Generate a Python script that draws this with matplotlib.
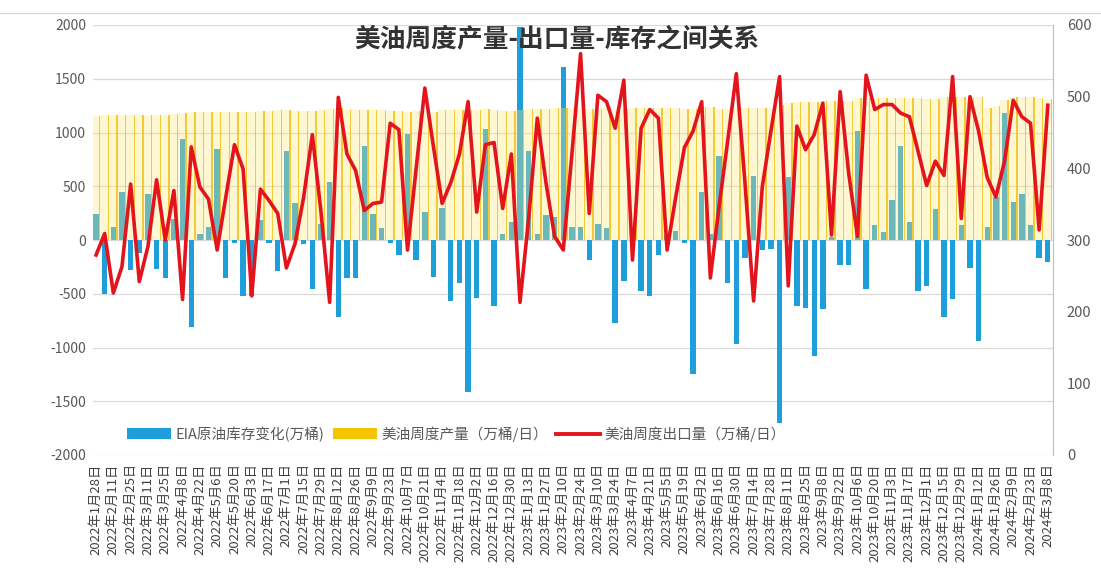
import numpy as np
import pandas as pd
import matplotlib
matplotlib.use("Agg")
import matplotlib.pyplot as plt
from matplotlib.patches import Patch
from matplotlib.lines import Line2D

plt.rcParams['font.family'] = ['Noto Sans CJK SC', 'DejaVu Sans']
plt.rcParams['axes.unicode_minus'] = False

# -------------------- data --------------------
dates = pd.date_range('2022-01-28', '2024-03-08', freq='7D')
date_labels = [f"{d.year}年{d.month}月{d.day}日" for d in dates]

# EIA crude inventory change (万桶), left axis
inventory_change = [
    245, -505, 117, 445, -276, -120, 430, -270, -350, 200,
    940, -813, 60, 120, 850, -353, -30, -520, -520, 190,
    -30, -290, 830, 340, -40, -460, 150, 540, -720, -350,
    -350, 875, 245, 110, -30, -140,
    985, -185, 260, -340, 300, -570, -400, -1412, -540, 1030,
    -615, 60, 170, 1980, 830, 60, 230, 215, 1610, 120,
    120, -185, 150, 110, -770, -385, 100, -475, -520, -140,
    50, 80, -30, -1245, 445, 60, 780, -400,
    -967, -170, 600, -90, -80, -1705, 585, -615, -630, -1075,
    -645, 30, -230, -230, 1015, -460, 140, 77, 370, 875,
    170, -475, -430, 290, -720, -550, 140, -260, -935, 120,
    400, 1180, 350, 430, 140, -170, -200,
]

# US weekly crude production (万桶/日), left axis
production = [
    1150, 1160, 1160, 1160, 1160, 1160, 1160, 1160, 1160, 1170,
    1180, 1190, 1190, 1190, 1190, 1190, 1190, 1190, 1190, 1200,
    1200, 1210, 1210, 1200, 1200, 1200, 1210, 1220, 1230, 1210,
    1210, 1210, 1210, 1210, 1200, 1200, 1190, 1200, 1200, 1190,
    1210, 1210, 1210, 1210, 1210, 1220, 1210, 1200, 1200,
    1210, 1220, 1220, 1220, 1230, 1230, 1230, 1230, 1220, 1220,
    1230, 1220, 1220, 1230, 1230, 1230, 1230, 1230, 1230, 1220,
    1220, 1240, 1240, 1220, 1220, 1240, 1230, 1230, 1230, 1220,
    1260, 1270, 1280, 1280, 1280, 1290, 1290, 1290, 1290, 1320,
    1320, 1320, 1320, 1320, 1320, 1320, 1320, 1310, 1310, 1330,
    1330, 1330,
    1320, 1330, 1230, 1250, 1300, 1330, 1330, 1330, 1320, 1310,
]

# US weekly crude exports (万桶/日), right axis
exports = [
    279, 309, 226, 263, 378, 242, 291, 384, 300, 369,
    217, 430, 374, 357, 286, 360, 433, 399, 222, 371,
    355, 337, 261, 295, 360, 447, 339, 213, 499, 420,
    397, 341, 351, 353, 463, 454,
    286, 400, 512, 430, 351, 380, 420, 493, 339, 433,
    436, 344, 420, 213, 330, 470, 380, 305, 286, 420,
    560, 337, 502, 493, 456, 523, 272, 456, 482, 470,
    286, 360, 429, 452, 493, 247, 346, 438,
    532, 380, 215, 374, 452, 528, 236, 459, 426, 447,
    491, 307, 507, 392, 305, 530, 482, 489, 489, 477,
    472, 424, 376, 410, 390, 528, 330, 500, 452, 387,
    360, 410, 495, 472, 463, 314, 488,
]

series_names = ['EIA原油库存变化(万桶)', '美油周度产量（万桶/日）', '美油周度出口量（万桶/日）']
title = '美油周度产量-出口量-库存之间关系'

# -------------------- styling --------------------
blue = '#1e9fd9'
gold = '#f2c11c'
pale = '#ffe680'
red = '#e3141c'
txt = '#595959'

x = np.arange(len(dates))

fig = plt.figure(figsize=(11.01, 5.80), dpi=100)
ax = fig.add_axes([93 / 1101, 1 - 455 / 580, 960 / 1101, 430 / 580])

ax.bar(x, inventory_change, width=0.62, color=blue, zorder=2)
ax.bar(x, production, width=1.0, color=pale, alpha=0.35, linewidth=0, zorder=3)
ax.bar(x + 0.42, production, width=0.16, color=gold, alpha=0.85, linewidth=0, zorder=3)

ax.set_xlim(-0.35, len(x) - 1 + 0.6)
ax.set_ylim(-2000, 2000)
ax.set_yticks(np.arange(-2000, 2001, 500))
ax.yaxis.grid(True, color='#d9d9d9', lw=0.9)
ax.set_axisbelow(True)
for s in ax.spines.values():
    s.set_visible(False)
ax.tick_params(axis='y', length=0, labelcolor=txt, labelsize=10, pad=5)
ax.set_xticks(x[::2])
ax.set_xticklabels(date_labels[::2], rotation=90, fontsize=9.5, color='#404040')
ax.tick_params(axis='x', length=0, pad=6)

ax2 = ax.twinx()
ax2.plot(x, exports, color=red, lw=2.6, zorder=5)
ax2.set_ylim(0, 600)
ax2.set_yticks(np.arange(0, 601, 100))
for k, s in ax2.spines.items():
    s.set_visible(k == 'right')
ax2.spines['right'].set_color('#bfbfbf')
ax2.tick_params(axis='y', length=0, labelcolor=txt, labelsize=10.5, pad=10)

handles = [Patch(facecolor=blue), Patch(facecolor='#f5c400'), Line2D([0], [0], color=red, lw=2.8)]
ax2.legend(handles, series_names, loc='lower left', bbox_to_anchor=(0.022, 0.0),
           ncol=3, frameon=False, fontsize=10.5, labelcolor=txt,
           handlelength=3.0, handleheight=0.75, handletextpad=0.3, columnspacing=0.6)

fig.text(0.506, 0.931, title, ha='center', va='center', fontsize=18.5,
         fontweight='bold', color='#333333', zorder=10)
fig.add_artist(Line2D([0, 1], [1 - 13 / 580] * 2, color='#d9d9d9', lw=1,
                      transform=fig.transFigure))

fig.savefig('out.png', dpi=100)
